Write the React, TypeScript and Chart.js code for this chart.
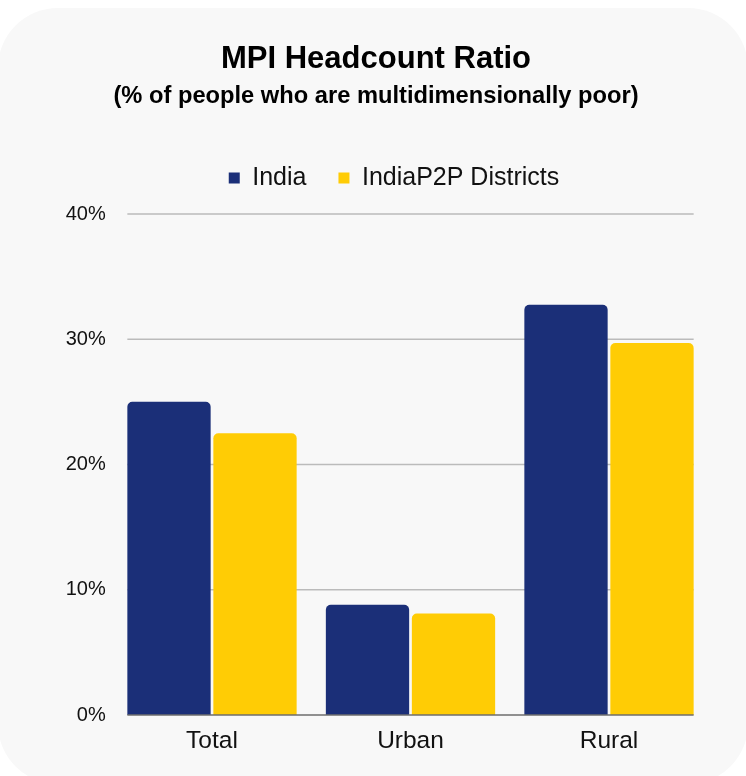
import React, { useEffect, useRef } from "react";
import { Chart, registerables, layouts } from "chart.js";

Chart.register(...registerables);

const categories = ["Total", "Urban", "Rural"];
const seriesNames = ["India", "IndiaP2P Districts"];
const indiaValues = [25.01, 8.81, 32.75];
const p2pValues = [22.5, 8.1, 29.7];
const yTicks = [0, 10, 20, 30, 40];

const NAVY = "#1b2f78";
const GOLD = "#ffcc05";
const FONT = "'Liberation Sans', Arial, sans-serif";

function makeSpacer(position: string, size: number, weight: number) {
  return {
    position,
    weight,
    fullSize: false,
    options: {},
    width: 0,
    height: 0,
    left: 0,
    top: 0,
    right: 0,
    bottom: 0,
    isHorizontal() {
      return position === "top" || position === "bottom";
    },
    update(maxWidth: number, maxHeight: number) {
      if (this.isHorizontal()) {
        this.width = maxWidth;
        this.height = size;
      } else {
        this.width = size;
        this.height = maxHeight;
      }
    },
    draw() {},
  };
}

const spacerPlugin = {
  id: "spacers",
  beforeInit(chart: any) {
    layouts.addBox(chart, makeSpacer("top", 13.5, 500) as any);
    layouts.addBox(chart, makeSpacer("right", 37.75, 0) as any);
  },
  afterLayout(chart: any) {
    if (chart.legend) {
      chart.legend.left += 18;
      chart.legend.right += 18;
    }
  },
};

function barSpan(chart: any) {
  const m0 = chart.getDatasetMeta(0).data;
  const m1 = chart.getDatasetMeta(1).data;
  if (!m0.length || !m1.length) return null;
  const first = m0[0];
  const last = m1[m1.length - 1];
  return { left: first.x - first.width / 2, right: last.x + last.width / 2 };
}

const gridPlugin = {
  id: "insetGrid",
  beforeDatasetsDraw(chart: any) {
    const span = barSpan(chart);
    if (!span) return;
    const { ctx } = chart;
    const y = chart.scales.y;
    ctx.save();
    ctx.strokeStyle = "#bbbbbb";
    ctx.lineWidth = 1.5;
    yTicks.forEach((t) => {
      if (t === 0) return;
      const py = y.getPixelForValue(t);
      ctx.beginPath();
      ctx.moveTo(span.left, py);
      ctx.lineTo(span.right, py);
      ctx.stroke();
    });
    ctx.restore();
  },
  afterDatasetsDraw(chart: any) {
    const span = barSpan(chart);
    if (!span) return;
    const { ctx } = chart;
    const py = chart.scales.y.getPixelForValue(0);
    ctx.save();
    ctx.strokeStyle = "#6e6e6e";
    ctx.lineWidth = 1.5;
    ctx.beginPath();
    ctx.moveTo(span.left, py);
    ctx.lineTo(span.right, py);
    ctx.stroke();
    ctx.restore();
  },
};

export default function App() {
  const ref = useRef<HTMLCanvasElement | null>(null);

  useEffect(() => {
    if (!ref.current) return;
    const chart = new Chart(ref.current, {
      type: "bar",
      data: {
        labels: categories,
        datasets: [
          {
            label: seriesNames[0],
            data: indiaValues,
            backgroundColor: NAVY,
            borderRadius: 5,
            categoryPercentage: 0.8665,
            barPercentage: 0.9686,
          },
          {
            label: seriesNames[1],
            data: p2pValues,
            backgroundColor: GOLD,
            borderRadius: 5,
            categoryPercentage: 0.8665,
            barPercentage: 0.9686,
          },
        ],
      },
      options: {
        responsive: false,
        animation: false,
        devicePixelRatio: 1,
        layout: { padding: { left: 6, right: 0, top: 0, bottom: 0 } },
        plugins: {
          title: {
            display: true,
            text: "MPI Headcount Ratio",
            color: "#000",
            font: { family: FONT, size: 31, weight: "bold", lineHeight: 1.2 },
            padding: { top: 41, bottom: 4 },
          },
          subtitle: {
            display: true,
            text: "(% of people who are multidimensionally poor)",
            color: "#000",
            font: { family: FONT, size: 23.7, weight: "bold", lineHeight: 1.2 },
            padding: { top: 0, bottom: 22.9 },
          },
          legend: {
            display: true,
            labels: {
              boxWidth: 11,
              boxHeight: 11,
              padding: 32,
              color: "#111",
              font: { family: FONT, size: 25 },
            },
          },
          tooltip: { enabled: false },
        },
        scales: {
          x: {
            grid: { display: false, drawTicks: false },
            border: { display: false },
            ticks: {
              color: "#111",
              padding: 12,
              font: { family: FONT, size: 24.5 },
            },
            afterFit: (s: any) => {
              s.height = 61;
            },
          },
          y: {
            min: 0,
            max: 40,
            grid: { display: false, drawTicks: false },
            border: { display: false },
            afterBuildTicks: (s: any) => {
              s.ticks = yTicks.map((v) => ({ value: v }));
            },
            ticks: {
              color: "#111",
              padding: 7,
              font: { family: FONT, size: 20 },
              callback: (v: any) => `${v}%`,
            },
            afterFit: (s: any) => {
              s.width = 106.75;
            },
          },
        },
      },
      plugins: [spacerPlugin, gridPlugin],
    });
    return () => chart.destroy();
  }, []);

  return (
    <div
      style={{
        position: "fixed",
        top: 0,
        left: 0,
        width: 746,
        height: 776,
        background: "#ffffff",
        overflow: "hidden",
      }}
    >
      <div
        style={{
          position: "absolute",
          top: 8,
          left: -2,
          width: 750,
          height: 776,
          background: "#f8f8f8",
          borderRadius: 60,
        }}
      />
      <canvas
        ref={ref}
        width={746}
        height={776}
        style={{ position: "absolute", top: 0, left: 0, width: 746, height: 776 }}
      />
    </div>
  );
}
